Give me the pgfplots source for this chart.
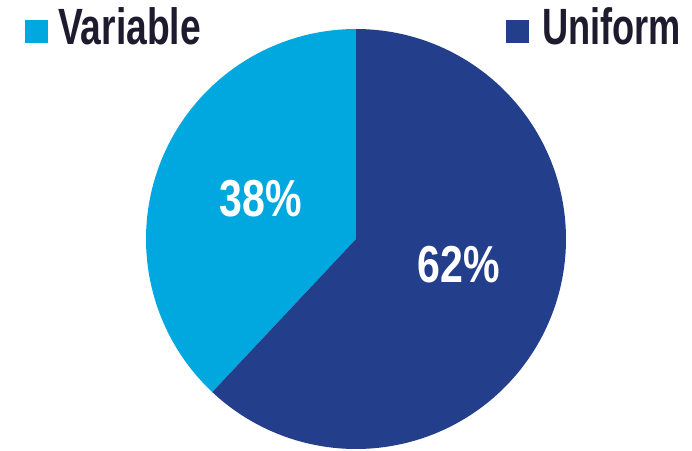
\documentclass[border=0pt]{standalone}
\usepackage{pgfplots}
\pgfplotsset{compat=1.18}
\usepackage{pgfplotstable}
\usepackage{fontspec}
\setmainfont{Liberation Sans}
\definecolor{clvar}{HTML}{00A8E0}
\definecolor{cluni}{HTML}{233E8B}
\definecolor{cltext}{HTML}{1E1B2E}

% share of each group (percent)
\pgfplotstableread{
name     value
Variable 38
Uniform  62
}\piedata

\begin{document}
\begin{tikzpicture}
\pgfplotstablegetelem{0}{value}\of\piedata \let\vvar\pgfplotsretval
\pgfplotstablegetelem{1}{value}\of\piedata \let\vuni\pgfplotsretval
\pgfmathsetmacro{\aA}{90}
\pgfmathsetmacro{\aB}{90+3.6*\vvar}
\pgfmathsetmacro{\aC}{\aB+3.6*\vuni}
\def\cx{356}\def\cy{-239}\def\rr{210}
\begin{axis}[
  x=1pt, y=1pt,
  xmin=0, xmax=692, ymin=-450, ymax=0,
  enlargelimits=false,
  hide axis, clip=false,
]
\coordinate (SW) at (axis cs:0,-450);
\coordinate (NE) at (axis cs:692,0);
% wedges
\addplot[draw=none, fill=clvar, domain=\aA:\aB, samples=120, variable=\t]
  ({\cx+\rr*cos(\t)}, {\cy+\rr*sin(\t)}) -- (axis cs:\cx,\cy) -- cycle;
\addplot[draw=none, fill=cluni, domain=\aB:\aC, samples=200, variable=\t]
  ({\cx+\rr*cos(\t)}, {\cy+\rr*sin(\t)}) -- (axis cs:\cx,\cy) -- cycle;

% legend squares
\addplot[only marks, mark=square*, mark size=11pt, color=clvar] coordinates {(36,-31)};
\addplot[only marks, mark=square*, mark size=11pt, color=cluni] coordinates {(517,-31)};

\node[anchor=base west, inner sep=0pt, text=cltext, font=\fontsize{51}{56}\selectfont\bfseries]
  at (axis cs:58,-45) {\scalebox{0.73}[1]{Variable}};
\node[anchor=base west, inner sep=0pt, text=cltext, font=\fontsize{51}{56}\selectfont\bfseries]
  at (axis cs:542,-45) {\scalebox{0.71}[1]{Uniform}};

% percentage labels
\node[inner sep=0pt, text=white, font=\fontsize{52}{56}\selectfont\bfseries]
  at (axis cs:261,-198.5) {\scalebox{0.79}[1]{\vvar\%}};
\node[inner sep=0pt, text=white, font=\fontsize{52}{56}\selectfont\bfseries]
  at (axis cs:458.5,-265) {\scalebox{0.79}[1]{\vuni\%}};
\end{axis}
% page = the axis area only
\pgfresetboundingbox
\path[use as bounding box] (SW) rectangle (NE);
\end{tikzpicture}
\end{document}
